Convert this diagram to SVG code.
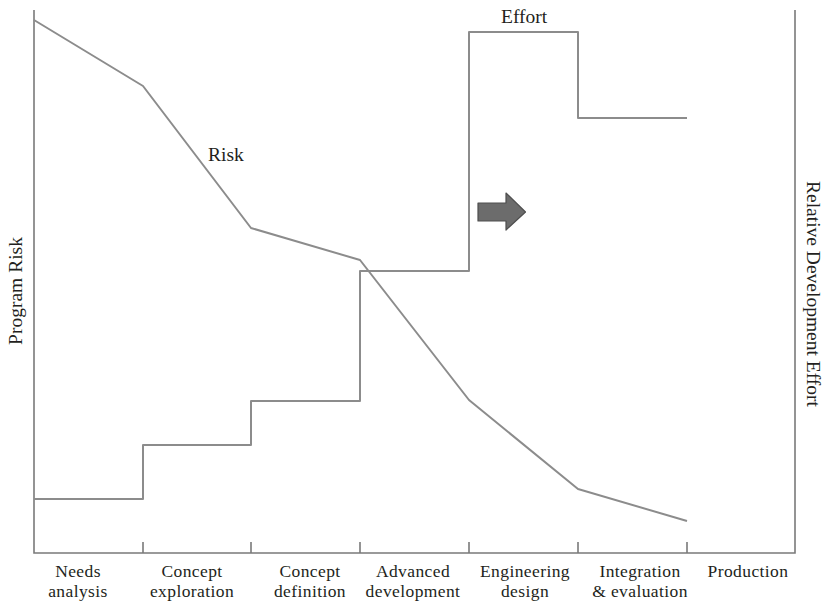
<svg xmlns="http://www.w3.org/2000/svg" width="827" height="604" viewBox="0 0 827 604">
  <style>
    .axis { fill: none; stroke: #7a7a7a; stroke-width: 1.6; }
    .curve { fill: none; stroke: #8c8c8c; stroke-width: 2; stroke-linejoin: round; }
    .lbl { font-family: "Liberation Serif", "Times New Roman", serif; fill: #231f20; }
    .phase { font-size: 17.5px; text-anchor: middle; letter-spacing: 0.4px; }
    .big { font-size: 19.5px; }
  </style>
  <rect width="827" height="604" fill="#ffffff"/>

  <!-- axes frame and phase ticks -->
  <g id="axes">
    <polyline class="axis" points="34,10 34,553 795,553 795,10"/>
    <path class="axis" d="M143,542V553M251,542V553M360,542V553M469,542V553M578,542V553M687,542V553"/>
  </g>

  <g id="connectors">
    <!-- program risk curve -->
    <polyline id="risk-curve" class="curve" points="34,20 143,86 251,228 360,260 469,400 578,489 687,521"/>
    <!-- development effort step curve -->
    <polyline id="effort-curve" class="curve" points="34,499 143,499 143,445 251,445 251,401 360,401 360,271 469,271 469,32 578,32 578,118 687,118"/>
  </g>

  <!-- direction arrow -->
  <g id="arrow">
    <polygon points="478,203 506,203 506,193 525.5,212 506,230 506,221 478,221" fill="#6c6c6c" stroke="#4e4e4e" stroke-width="1.2" stroke-linejoin="round"/>
  </g>

  <g id="curve-labels" class="lbl big">
    <text x="208" y="161">Risk</text>
    <text x="501" y="23">Effort</text>
  </g>

  <g id="axis-titles" class="lbl big">
    <text transform="translate(22,291) rotate(-90)" text-anchor="middle">Program Risk</text>
    <text transform="translate(807,294) rotate(90)" text-anchor="middle">Relative Development Effort</text>
  </g>

  <g id="phase-labels" class="lbl phase">
    <text x="78" y="577">Needs</text>
    <text x="78" y="597">analysis</text>
    <text x="192" y="577">Concept</text>
    <text x="192" y="597">exploration</text>
    <text x="310" y="577">Concept</text>
    <text x="310" y="597">definition</text>
    <text x="413" y="577">Advanced</text>
    <text x="413" y="597">development</text>
    <text x="525" y="577">Engineering</text>
    <text x="525" y="597">design</text>
    <text x="640" y="577">Integration</text>
    <text x="640" y="597">&amp; evaluation</text>
    <text x="748" y="577">Production</text>
  </g>
</svg>
